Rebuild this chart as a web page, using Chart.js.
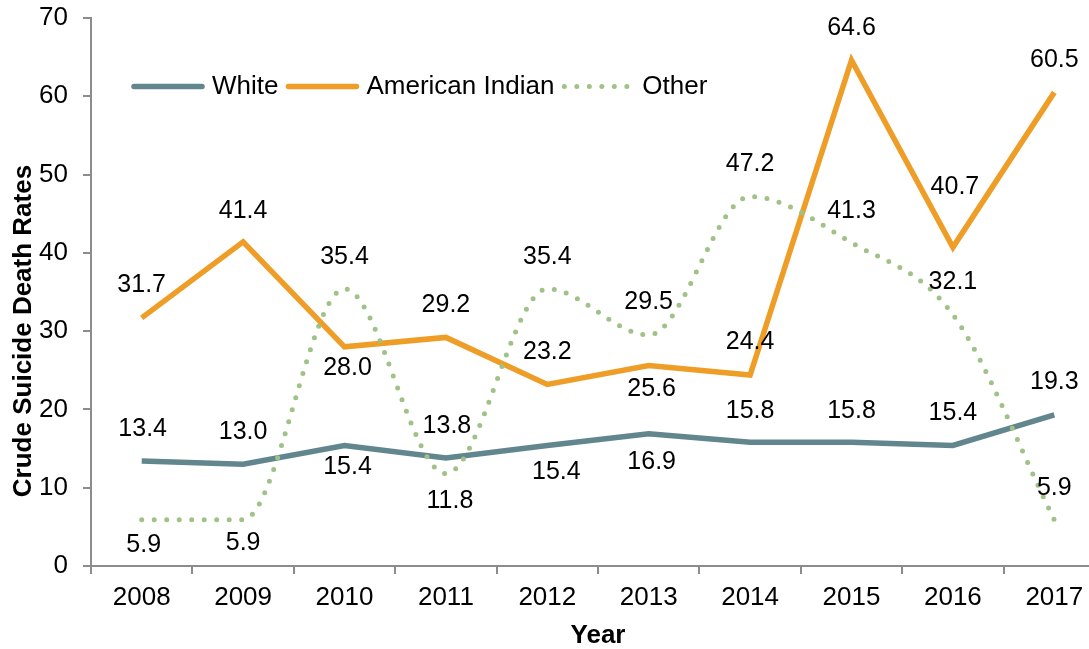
<!DOCTYPE html>
<html>
<head>
<meta charset="utf-8">
<script src="https://cdn.jsdelivr.net/npm/chart.js@4.4.1/dist/chart.umd.min.js"></script>
<style>
  html, body { margin: 0; padding: 0; overflow: hidden; background: #fff; }
  #wrap { position: relative; width: 1110px; height: 649px; }
</style>
</head>
<body>
<div id="wrap"><canvas id="rateChart"></canvas></div>
<script>
// Crude suicide death rates by race, 2008-2017
const years = ["2008", "2009", "2010", "2011", "2012", "2013", "2014", "2015", "2016", "2017"];
const whiteRates = [13.4, 13.0, 15.4, 13.8, 15.4, 16.9, 15.8, 15.8, 15.4, 19.3];
const americanIndianRates = [31.7, 41.4, 28.0, 29.2, 23.2, 25.6, 24.4, 64.6, 40.7, 60.5];
const otherRates = [5.9, 5.9, 35.4, 11.8, 35.4, 29.5, 47.2, 41.3, 32.1, 5.9];

// where each value label sits relative to its point (px)
const whiteLabelDx = [1, 0, 3, 1, 9, 3, 0, 0, 0, 0];
const whiteLabelDy = [-32, -32, 22, -32, 27, 28, -31, -31, -32, -33];
const indianLabelDx = [0, 0, 3, 0, 0, 3, 0, 0, 2, 0];
const indianLabelDy = [-33, -31, 21, -32, -32, 24, -33, -32, -60, -32];
const otherLabelDx = [2, 0, 0, 4, 0, 0, 0, 0, 0, 0];
const otherLabelDy = [25, 23, -32, 27, -32, -33, -32, -32, -33, -32];

const FONT = "'Liberation Sans', Arial, sans-serif";
const AXIS_GREY = "#8c8c8c";

// value labels, legend and y title drawn straight onto the canvas
const decorations = {
  id: "decorations",
  afterDatasetsDraw(chart) {
    const ctx = chart.ctx;
    ctx.save();
    ctx.font = "25px " + FONT;
    ctx.fillStyle = "#000";
    ctx.textAlign = "center";
    ctx.textBaseline = "middle";
    chart.data.datasets.forEach((ds, i) => {
      const meta = chart.getDatasetMeta(i);
      meta.data.forEach((pt, j) => {
        ctx.fillText(ds.data[j].toFixed(1), pt.x + ds.labelDx[j], pt.y + ds.labelDy[j]);
      });
    });
    ctx.restore();
  },
  afterDraw(chart) {
    const ctx = chart.ctx;
    ctx.save();

    // legend inside the plot, top left
    let x = 134;
    const y = 86.5;
    ctx.font = "26px " + FONT;
    ctx.textBaseline = "middle";
    ctx.textAlign = "left";
    chart.data.datasets.forEach(ds => {
      ctx.beginPath();
      ctx.strokeStyle = ds.borderColor;
      ctx.lineWidth = ds.borderWidth;
      ctx.lineCap = "round";
      ctx.setLineDash(ds.borderDash || []);
      ctx.moveTo(x, y);
      ctx.lineTo(x + 68, y);
      ctx.stroke();
      ctx.setLineDash([]);
      ctx.fillStyle = "#000";
      ctx.fillText(ds.label, x + 78, y);
      x += 78 + ctx.measureText(ds.label).width + 10;
    });

    // y axis title
    ctx.translate(24, 331);
    ctx.rotate(-Math.PI / 2);
    ctx.textAlign = "center";
    ctx.font = "bold 26px " + FONT;
    ctx.fillText("Crude Suicide Death Rates", 0, 0);
    ctx.restore();
  }
};

const rateChart = new Chart(document.getElementById("rateChart"), {
  type: "line",
  data: {
    labels: years,
    datasets: [
      {
        label: "White",
        data: whiteRates,
        borderColor: "#62868e",
        borderWidth: 5.5,
        pointRadius: 0,
        tension: 0,
        order: 2,
        labelDx: whiteLabelDx,
        labelDy: whiteLabelDy
      },
      {
        label: "American Indian",
        data: americanIndianRates,
        borderColor: "#ee9d26",
        borderWidth: 5.5,
        pointRadius: 0,
        tension: 0,
        order: 1,
        labelDx: indianLabelDx,
        labelDy: indianLabelDy
      },
      {
        label: "Other",
        data: otherRates,
        borderColor: "#a0c187",
        borderWidth: 5,
        borderDash: [0, 12.5],
        borderCapStyle: "round",
        pointRadius: 0,
        cubicInterpolationMode: "monotone",
        order: 0,
        labelDx: otherLabelDx,
        labelDy: otherLabelDy
      }
    ]
  },
  options: {
    responsive: true,
    maintainAspectRatio: false,
    animation: false,
    layout: { padding: { top: 18, right: 5, bottom: 0, left: 0 } },
    plugins: {
      legend: { display: false },
      tooltip: { enabled: false }
    },
    scales: {
      x: {
        offset: true,
        grid: {
          display: true,
          offset: true,
          drawOnChartArea: false,
          drawTicks: true,
          tickLength: 8,
          color: AXIS_GREY,
          lineWidth: 2
        },
        border: { display: true, color: AXIS_GREY, width: 2 },
        ticks: {
          color: "#000",
          font: { family: FONT, size: 26 },
          padding: 8,
          maxRotation: 0
        },
        title: {
          display: true,
          text: "Year",
          color: "#000",
          font: { family: FONT, size: 26, weight: "bold", lineHeight: 1 },
          padding: 0
        },
        afterFit(scale) {
          scale.height = 83;
          scale.paddingLeft = 0;
          scale.paddingRight = 0;
        }
      },
      y: {
        min: 0,
        max: 70,
        ticks: {
          stepSize: 10,
          color: "#000",
          font: { family: FONT, size: 26 },
          padding: 15
        },
        grid: {
          display: true,
          drawOnChartArea: false,
          drawTicks: true,
          tickLength: 8,
          color: AXIS_GREY,
          lineWidth: 2
        },
        border: { display: true, color: AXIS_GREY, width: 2 },
        afterFit(scale) {
          scale.width = 91;
          scale.paddingTop = 0;
          scale.paddingBottom = 0;
        }
      }
    }
  },
  plugins: [decorations]
});
</script>
</body>
</html>
